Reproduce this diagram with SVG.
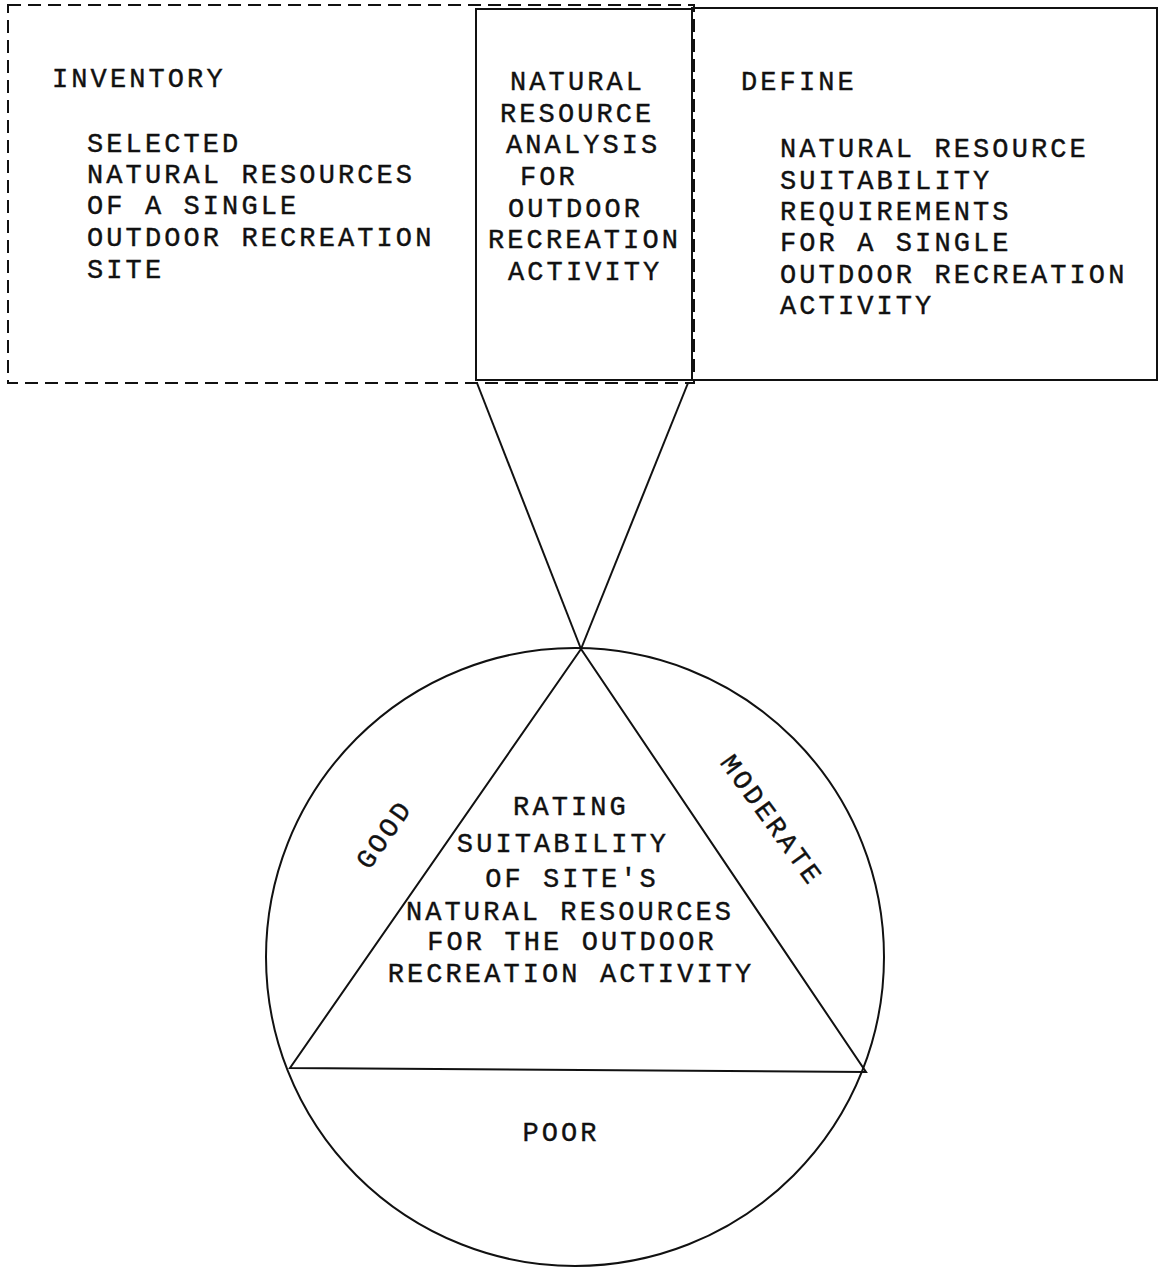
<svg xmlns="http://www.w3.org/2000/svg" width="1160" height="1269" viewBox="0 0 1160 1269">
<style>
text{font-family:"Liberation Mono","Courier New",monospace;font-size:27px;letter-spacing:3.1px;fill:#111;stroke:#111;stroke-width:0.4;}
.s{fill:none;stroke:#111;stroke-width:2;}
.d{fill:none;stroke:#111;stroke-width:2;stroke-dasharray:13 7;}
</style>
<rect width="1160" height="1269" fill="#fff"/>
<g id="inventory">
<rect class="d" x="8" y="5" width="686" height="378"/>
<text x="52" y="87">INVENTORY</text>
<text x="87" y="152">SELECTED</text>
<text x="87" y="183">NATURAL RESOURCES</text>
<text x="87" y="214">OF A SINGLE</text>
<text x="87" y="246">OUTDOOR RECREATION</text>
<text x="87" y="278">SITE</text>
</g>
<g id="analysis">
<rect class="s" x="476" y="9" width="216" height="371"/>
<text x="510" y="90">NATURAL</text>
<text x="500" y="122">RESOURCE</text>
<text x="506" y="153">ANALYSIS</text>
<text x="520" y="185">FOR</text>
<text x="508" y="217">OUTDOOR</text>
<text x="488" y="248">RECREATION</text>
<text x="508" y="280">ACTIVITY</text>
</g>
<g id="define">
<rect class="s" x="692" y="8" width="465" height="372"/>
<text x="741" y="90">DEFINE</text>
<text x="780" y="157">NATURAL RESOURCE</text>
<text x="780" y="189">SUITABILITY</text>
<text x="780" y="220">REQUIREMENTS</text>
<text x="780" y="251">FOR A SINGLE</text>
<text x="780" y="283">OUTDOOR RECREATION</text>
<text x="780" y="314">ACTIVITY</text>
</g>
<g id="connectors">
<line class="s" x1="477" y1="383" x2="581" y2="649"/>
<line class="s" x1="688" y1="383" x2="581" y2="649"/>
</g>
<g id="rating">
<circle class="s" cx="575" cy="957" r="309"/>
<polygon class="s" points="581,649 290,1068 866,1072"/>
<text x="571" y="815" text-anchor="middle">RATING</text>
<text x="563" y="852" text-anchor="middle">SUITABILITY</text>
<text x="572" y="887" text-anchor="middle">OF SITE'S</text>
<text x="570" y="920" text-anchor="middle">NATURAL RESOURCES</text>
<text x="572" y="950" text-anchor="middle">FOR THE OUTDOOR</text>
<text x="571" y="982" text-anchor="middle">RECREATION ACTIVITY</text>
<text x="561" y="1141" text-anchor="middle">POOR</text>
<text x="0" y="0" text-anchor="middle" transform="translate(384,834) rotate(-55) translate(0,9)">GOOD</text>
<text x="0" y="0" text-anchor="middle" transform="translate(772,820) rotate(54) translate(0,9)">MODERATE</text>
</g>
</svg>
